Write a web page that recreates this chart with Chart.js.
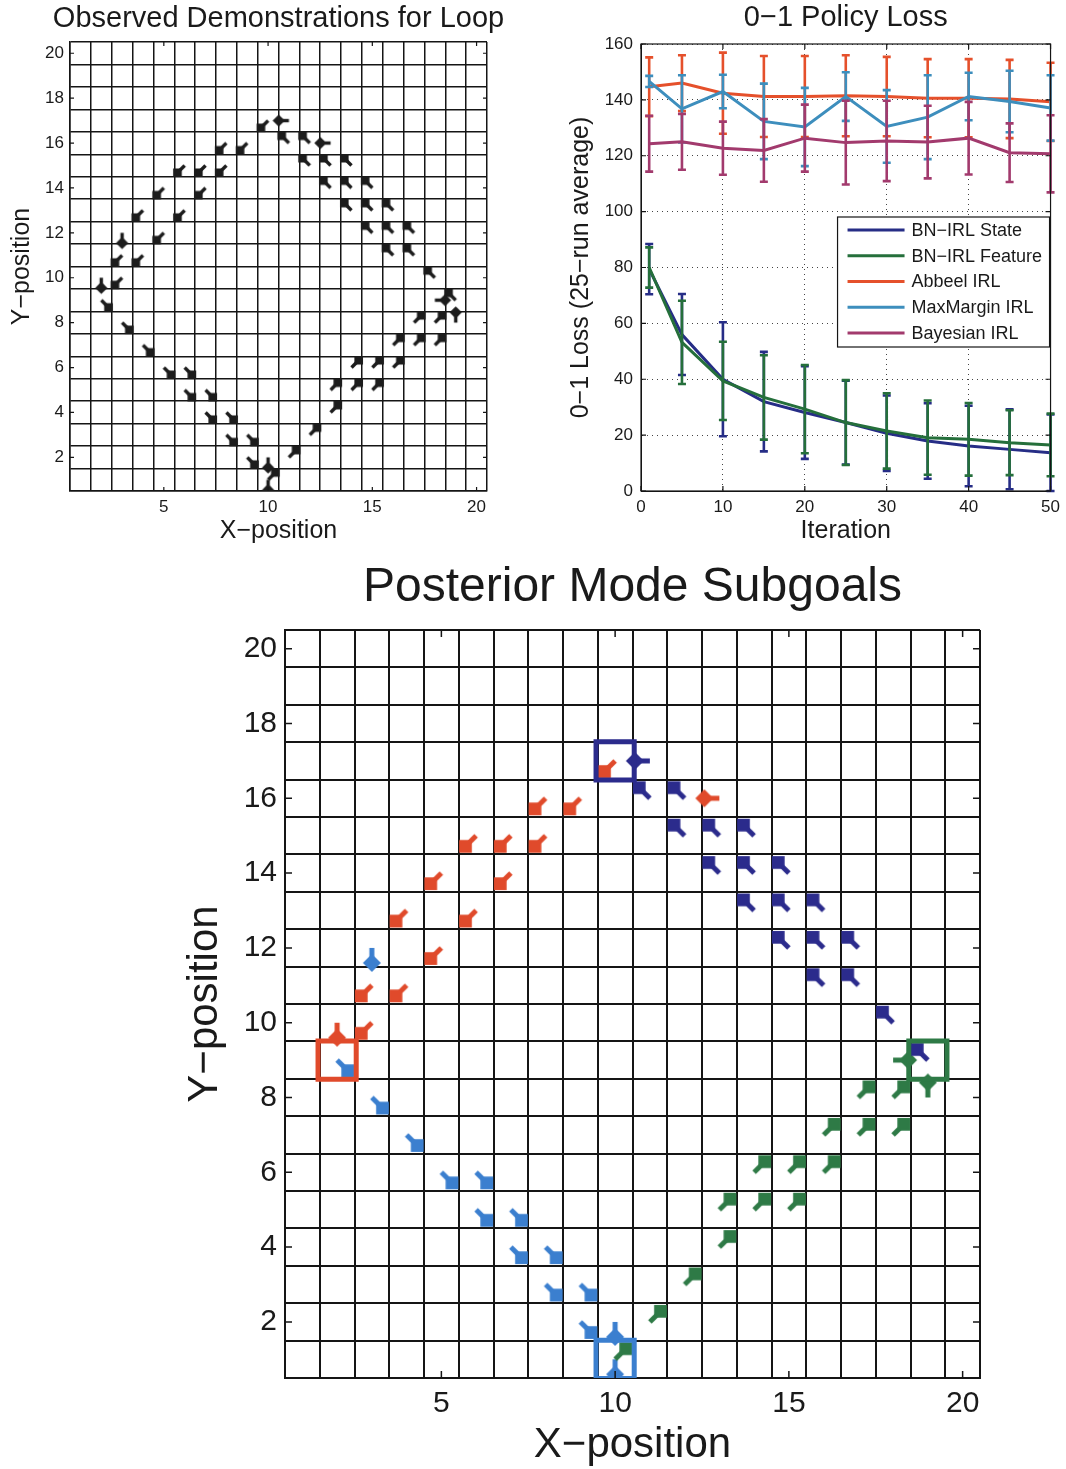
<!DOCTYPE html>
<html>
<head>
<meta charset="utf-8">
<script src="https://cdn.jsdelivr.net/npm/chart.js@4.4.1/dist/chart.umd.min.js"></script>
<style>
  html, body { margin: 0; padding: 0; background: #fff; }
  .panel { position: absolute; }
  #demo { left: 0; top: 0; width: 530px; height: 550px; }
  #loss { left: 530px; top: 0; width: 536px; height: 550px; }
  #modes { left: 0; top: 550px; width: 1066px; height: 919px; }
</style>
</head>
<body>
<div class="panel" id="demo"><canvas id="demoChart"></canvas></div>
<div class="panel" id="loss"><canvas id="lossChart"></canvas></div>
<div class="panel" id="modes"><canvas id="modesChart"></canvas></div>
<script>
// arrows per subgoal partition: [x, y, direction]
const redArrows = [
  [10, 17, 'SW'], [8, 16, 'SW'], [9, 16, 'SW'], [13, 16, 'W'],
  [6, 15, 'SW'], [7, 15, 'SW'], [8, 15, 'SW'],
  [5, 14, 'SW'], [7, 14, 'SW'],
  [4, 13, 'SW'], [6, 13, 'SW'],
  [5, 12, 'SW'],
  [3, 11, 'SW'], [4, 11, 'SW'],
  [3, 10, 'SW'], [2, 10, 'S']
];
const lightBlueArrows = [
  [3, 12, 'S'], [2, 9, 'SE'], [3, 8, 'SE'], [4, 7, 'SE'],
  [5, 6, 'SE'], [6, 6, 'SE'], [6, 5, 'SE'], [7, 5, 'SE'],
  [7, 4, 'SE'], [8, 4, 'SE'], [8, 3, 'SE'], [9, 3, 'SE'],
  [9, 2, 'SE'], [10, 2, 'S'], [10, 1, 'S']
];
const navyArrows = [
  [11, 17, 'W'], [11, 16, 'NW'], [12, 16, 'NW'],
  [12, 15, 'NW'], [13, 15, 'NW'], [14, 15, 'NW'],
  [13, 14, 'NW'], [14, 14, 'NW'], [15, 14, 'NW'],
  [14, 13, 'NW'], [15, 13, 'NW'], [16, 13, 'NW'],
  [15, 12, 'NW'], [16, 12, 'NW'], [17, 12, 'NW'],
  [16, 11, 'NW'], [17, 11, 'NW'],
  [18, 10, 'NW'], [19, 9, 'NW']
];
const greenArrows = [
  [10, 1, 'NE'], [11, 2, 'NE'], [12, 3, 'NE'], [13, 4, 'NE'],
  [13, 5, 'NE'], [14, 5, 'NE'], [15, 5, 'NE'],
  [14, 6, 'NE'], [15, 6, 'NE'], [16, 6, 'NE'],
  [16, 7, 'NE'], [17, 7, 'NE'], [18, 7, 'NE'],
  [17, 8, 'NE'], [18, 8, 'NE'], [19, 8, 'N'], [18, 9, 'E']
];
const subgoalCells = [[2, 9], [10, 17], [19, 9], [10, 1]];

const gridXLabels = [5, 10, 15, 20];
const gridYLabels = [2, 4, 6, 8, 10, 12, 14, 16, 18, 20];

// policy loss vs iteration
const iterations = [1, 5, 10, 15, 20, 25, 30, 35, 40, 45, 50];
const stateMean = [79.4, 56, 40, 32, 28.1, 24.5, 20.7, 17.9, 16.1, 14.9, 13.7];
const stateErr = [9, 14.5, 20.4, 17.8, 16.6, 15, 13.5, 13.5, 14.4, 14.3, 13.7];
const featureMean = [80, 53.2, 39.4, 33.5, 29.3, 24.5, 21.5, 19.1, 18.5, 17.3, 16.5];
const featureErr = [7.2, 14.9, 14, 15.1, 15.8, 15.2, 13.5, 13.3, 13, 11.6, 11.2];
const abbeelMean = [144.7, 146, 142.4, 141.2, 141.2, 141.5, 141.2, 140.6, 140.6, 140.3, 139.3];
const abbeelErr = [10.5, 10, 14.5, 14.5, 14.5, 14.5, 14.2, 14, 14, 14, 14];
const maxMarginMean = [146.6, 136.8, 143, 132.3, 130.3, 141.2, 130.5, 133.8, 141.2, 139.4, 137.1];
const maxMarginErr = [2, 12, 6, 13.5, 14, 8.7, 13, 15, 8.5, 11, 11.7];
const bayesMean = [124.3, 125, 122.7, 121.9, 126.3, 124.7, 125.3, 124.9, 126.3, 121.1, 120.7];
const bayesErr = [10, 10, 9.5, 11.2, 12, 15, 14.4, 13, 13, 10.5, 13.8];
const lossXTicks = [0, 10, 20, 30, 40, 50];
const lossYTicks = [0, 20, 40, 60, 80, 100, 120, 140, 160];

const RED = '#e04a2b', LIGHT_BLUE = '#3b7fcf', NAVY = '#2b2b8c', GREEN = '#2e7a46';
const TEXT = '#1a1a1a';
const FAMILY = '"Liberation Sans", Arial, Helvetica, sans-serif';
Chart.defaults.font.family = FAMILY;
Chart.defaults.color = TEXT;

// arrow glyph: shaft from the cell centre, square head pointing along the action
const dirAngle = { E: 0, NE: -45, N: -90, NW: -135, W: 180, SW: 135, S: 90, SE: 45 };
const glyphCache = {};
function glyph(color, dir, k) {
  const key = color + dir + k;
  if (glyphCache[key]) return glyphCache[key];
  const L = 15 * k, h = 9 * k, w = 5 * k;
  const size = Math.ceil(2 * (L + h + 2));
  const c = document.createElement('canvas');
  c.width = c.height = size;
  const g = c.getContext('2d');
  g.translate(size / 2, size / 2);
  g.rotate(dirAngle[dir] * Math.PI / 180);
  g.fillStyle = color;
  g.fillRect(0, -w / 2, L, w);
  g.beginPath();
  g.moveTo(L + h, 0);
  g.lineTo(L, -h);
  g.lineTo(L - h, 0);
  g.lineTo(L, h);
  g.closePath();
  g.fill();
  glyphCache[key] = c;
  return c;
}

const toPoints = (arr) => arr.map(([x, y, d]) => ({ x, y, d }));

function arrowSet(arr, color, k) {
  return {
    data: toPoints(arr),
    pointRadius: 3,
    pointStyle: (ctx) => ctx.raw ? glyph(color, ctx.raw.d, k) : 'circle'
  };
}

// grid lines sit between cells, labels on cell centres
const halfSteps = [];
for (let i = 1; i <= 41; i++) halfSteps.push(i / 2);

function cellAxis(o) {
  return {
    type: 'linear', min: 0.5, max: 20.5,
    afterBuildTicks: (axis) => { axis.ticks = halfSteps.map(v => ({ value: v })); },
    afterFit: (axis) => { if (o.width) axis.width = o.width; if (o.height) axis.height = o.height; },
    ticks: {
      autoSkip: false, maxRotation: 0, padding: o.pad, color: TEXT,
      font: { size: o.tickSize },
      callback: (v) => o.labels.includes(v) ? String(v) : ''
    },
    grid: {
      drawTicks: false, lineWidth: o.line,
      color: (c) => (c.tick && c.tick.value % 1 !== 0) ? '#151515' : 'rgba(0,0,0,0)'
    },
    border: { color: '#151515', width: o.line },
    title: {
      display: true, text: o.title, color: TEXT,
      font: { size: o.titleSize, lineHeight: 1 },
      padding: o.titlePad
    }
  };
}

// title centred over the plot box rather than the whole canvas
const areaTitle = {
  id: 'areaTitle',
  afterDraw(chart, args, o) {
    const { ctx, chartArea: a } = chart;
    ctx.save();
    ctx.font = o.size + 'px ' + FAMILY;
    ctx.fillStyle = TEXT;
    ctx.textAlign = 'center';
    ctx.textBaseline = 'middle';
    ctx.fillText(o.text, (a.left + a.right) / 2, o.y);
    ctx.restore();
  }
};

const frameTicks = {
  id: 'frameTicks',
  afterDatasetsDraw(chart, args, o) {
    const { ctx, chartArea: a, scales } = chart;
    ctx.save();
    ctx.strokeStyle = '#151515';
    ctx.lineWidth = o.width;
    if (o.box) ctx.strokeRect(a.left, a.top, a.right - a.left, a.bottom - a.top);
    ctx.beginPath();
    o.x.forEach(v => {
      const px = scales.x.getPixelForValue(v);
      ctx.moveTo(px, a.bottom); ctx.lineTo(px, a.bottom - o.len);
      ctx.moveTo(px, a.top); ctx.lineTo(px, a.top + o.len);
    });
    o.y.forEach(v => {
      const py = scales.y.getPixelForValue(v);
      ctx.moveTo(a.left, py); ctx.lineTo(a.left + o.len, py);
      ctx.moveTo(a.right, py); ctx.lineTo(a.right - o.len, py);
    });
    ctx.stroke();
    ctx.restore();
  }
};

const errorBars = {
  id: 'errorBars',
  afterDatasetDraw(chart, args) {
    const ds = chart.data.datasets[args.index];
    if (!ds.errors) return;
    const { ctx, scales: { x, y } } = chart;
    ctx.save();
    ctx.strokeStyle = ds.borderColor;
    ctx.lineWidth = 2.6;
    ctx.beginPath();
    ds.data.forEach((p, i) => {
      const px = x.getPixelForValue(p.x);
      const top = y.getPixelForValue(p.y + ds.errors[i]);
      const bot = y.getPixelForValue(p.y - ds.errors[i]);
      ctx.moveTo(px, top); ctx.lineTo(px, bot);
      ctx.moveTo(px - 4, top); ctx.lineTo(px + 4, top);
      ctx.moveTo(px - 4, bot); ctx.lineTo(px + 4, bot);
    });
    ctx.stroke();
    ctx.restore();
  }
};

const boxLegend = {
  id: 'boxLegend',
  afterDraw(chart, args, o) {
    const { ctx, chartArea: a } = chart;
    const sets = chart.data.datasets;
    const left = a.right - o.width - 1, top = a.top + o.top;
    const h = o.rowH * sets.length + 1;
    ctx.save();
    ctx.fillStyle = '#fff';
    ctx.fillRect(left, top, o.width, h);
    ctx.strokeStyle = '#151515';
    ctx.lineWidth = 1.2;
    ctx.strokeRect(left, top, o.width, h);
    ctx.font = '18px ' + FAMILY;
    ctx.textBaseline = 'middle';
    sets.forEach((ds, i) => {
      const y = top + o.rowH * (i + 0.5);
      ctx.strokeStyle = ds.borderColor;
      ctx.lineWidth = 3;
      ctx.beginPath();
      ctx.moveTo(left + 10, y);
      ctx.lineTo(left + 67, y);
      ctx.stroke();
      ctx.fillStyle = TEXT;
      ctx.fillText(ds.label, left + 74, y + 1);
    });
    ctx.restore();
  }
};

// observed demonstrations, all in black
const allArrows = [].concat(redArrows, lightBlueArrows, navyArrows, greenArrows);
new Chart(document.getElementById('demoChart'), {
  type: 'scatter',
  data: { datasets: [arrowSet(allArrows, '#1c1c1c', 0.68)] },
  plugins: [frameTicks, areaTitle],
  options: {
    animation: false, responsive: true, maintainAspectRatio: false,
    layout: { padding: { left: 0, right: 43, top: 42, bottom: 0 } },
    scales: {
      x: cellAxis({ labels: gridXLabels, height: 59, pad: 6, tickSize: 17, line: 1.5,
        title: 'X\u2212position', titleSize: 25, titlePad: { top: 0, bottom: 6.5 } }),
      y: cellAxis({ labels: gridYLabels, width: 70, pad: 6, tickSize: 17, line: 1.5,
        title: 'Y\u2212position', titleSize: 25, titlePad: { top: 9.5, bottom: 0 } })
    },
    plugins: {
      legend: { display: false },
      tooltip: { enabled: false },
      areaTitle: { text: 'Observed Demonstrations for Loop', size: 29, y: 19 },
      frameTicks: { x: gridXLabels, y: gridYLabels, len: 4, width: 1.2, box: false }
    }
  }
});

// 0-1 policy loss
const series = (mean) => iterations.map((x, i) => ({ x, y: mean[i] }));
function lossSet(label, color, mean, err, order) {
  return { label, data: series(mean), errors: err, borderColor: color, backgroundColor: color,
    borderWidth: 3, pointRadius: 0, tension: 0, order };
}
new Chart(document.getElementById('lossChart'), {
  type: 'line',
  data: {
    datasets: [
      lossSet('BN\u2212IRL State', '#262d86', stateMean, stateErr, 5),
      lossSet('BN\u2212IRL Feature', '#256f3b', featureMean, featureErr, 4),
      lossSet('Abbeel IRL', '#e5502b', abbeelMean, abbeelErr, 3),
      lossSet('MaxMargin IRL', '#3d8ebd', maxMarginMean, maxMarginErr, 2),
      lossSet('Bayesian IRL', '#a23a6d', bayesMean, bayesErr, 1)
    ]
  },
  plugins: [errorBars, frameTicks, boxLegend, areaTitle],
  options: {
    animation: false, responsive: true, maintainAspectRatio: false,
    layout: { padding: { left: 0, right: 15, top: 44, bottom: 0 } },
    scales: {
      x: {
        type: 'linear', min: 0, max: 50,
        afterBuildTicks: (axis) => { axis.ticks = lossXTicks.map(v => ({ value: v })); },
        afterFit: (axis) => { axis.height = 59; },
        ticks: { padding: 6, color: TEXT, font: { size: 17 }, maxRotation: 0 },
        grid: { drawTicks: false, color: '#444', lineWidth: 1 },
        border: { color: '#151515', dash: [1, 4] },
        title: { display: true, text: 'Iteration', color: TEXT, font: { size: 25, lineHeight: 1 },
          padding: { top: 0, bottom: 6.5 } }
      },
      y: {
        type: 'linear', min: 0, max: 160,
        afterBuildTicks: (axis) => { axis.ticks = lossYTicks.map(v => ({ value: v })); },
        afterFit: (axis) => { axis.width = 111; },
        ticks: { padding: 8, color: TEXT, font: { size: 17 } },
        grid: { drawTicks: false, color: '#444', lineWidth: 1 },
        border: { color: '#151515', dash: [1, 4] },
        title: { display: true, text: '0\u22121 Loss (25\u2212run average)', color: TEXT,
          font: { size: 25, lineHeight: 1 }, padding: { top: 38.5, bottom: 0 } }
      }
    },
    plugins: {
      legend: { display: false },
      tooltip: { enabled: false },
      areaTitle: { text: '0\u22121 Policy Loss', size: 29, y: 18 },
      frameTicks: { x: lossXTicks, y: lossYTicks, len: 5, width: 1.2, box: true },
      boxLegend: { width: 212, top: 173, rowH: 25.8 }
    }
  }
});

// posterior mode subgoals, coloured by partition
new Chart(document.getElementById('modesChart'), {
  type: 'scatter',
  data: {
    datasets: [
      {
        data: subgoalCells.map(([x, y]) => ({ x, y })),
        pointStyle: 'rect', pointRadius: 27, pointBorderWidth: 5,
        pointBorderColor: [RED, NAVY, GREEN, LIGHT_BLUE],
        pointBackgroundColor: 'rgba(0,0,0,0)', order: 0
      },
      Object.assign(arrowSet(redArrows, RED, 1), { order: 1 }),
      Object.assign(arrowSet(lightBlueArrows, LIGHT_BLUE, 1), { order: 2 }),
      Object.assign(arrowSet(navyArrows, NAVY, 1), { order: 1 }),
      Object.assign(arrowSet(greenArrows, GREEN, 1), { order: 1 })
    ]
  },
  plugins: [frameTicks, areaTitle],
  options: {
    animation: false, responsive: true, maintainAspectRatio: false,
    layout: { padding: { left: 0, right: 86, top: 80, bottom: 0 } },
    scales: {
      x: cellAxis({ labels: gridXLabels, height: 91, pad: 8, tickSize: 30, line: 2,
        title: 'X\u2212position', titleSize: 42, titlePad: { top: 0, bottom: 3 } }),
      y: cellAxis({ labels: gridYLabels, width: 285, pad: 8, tickSize: 30, line: 2,
        title: 'Y\u2212position', titleSize: 42, titlePad: { top: 184, bottom: 0 } })
    },
    plugins: {
      legend: { display: false },
      tooltip: { enabled: false },
      areaTitle: { text: 'Posterior Mode Subgoals', size: 48, y: 38 },
      frameTicks: { x: gridXLabels, y: gridYLabels, len: 7, width: 1.5, box: false }
    }
  }
});
</script>
</body>
</html>
